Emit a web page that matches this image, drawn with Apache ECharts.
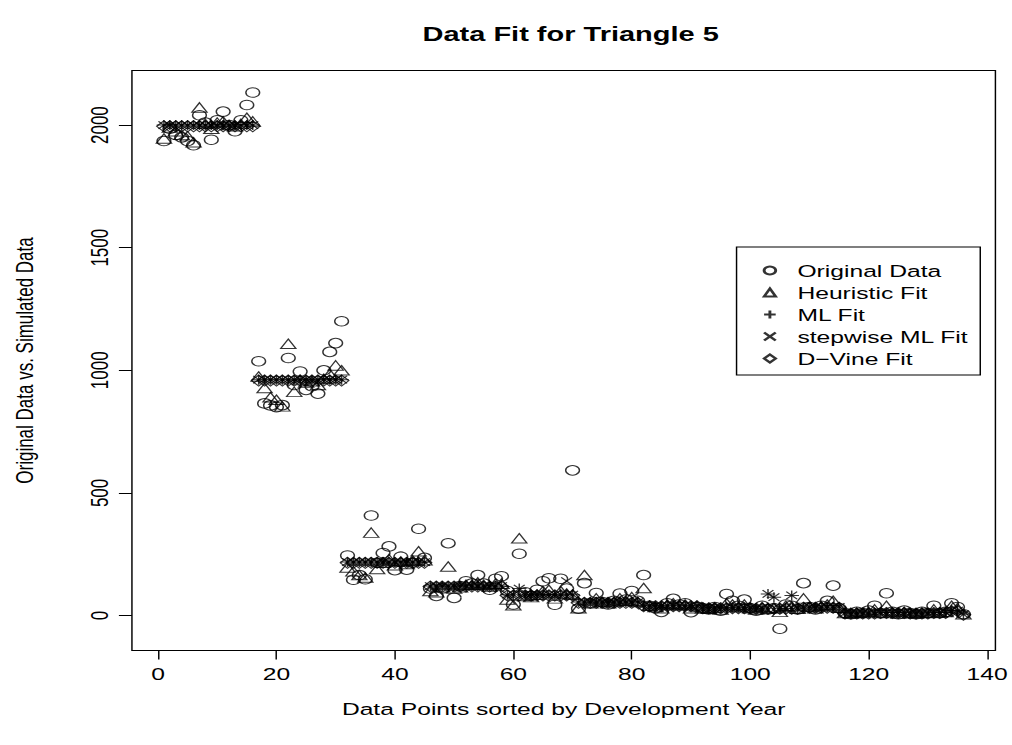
<!DOCTYPE html>
<html>
<head>
<meta charset="utf-8">
<script src="https://cdn.jsdelivr.net/npm/echarts@6/dist/echarts.min.js"></script>
<style>
html,body{margin:0;padding:0;background:#fff;}
#wrap{width:1012px;height:745px;overflow:hidden;background:#fff;}
/* the reference image is an R plot stretched horizontally; draw natively, then stretch */
#chart{width:698px;height:745px;transform:scaleX(1.4499);transform-origin:0 0;}
</style>
</head>
<body>
<div id="wrap"><div id="chart"></div></div>
<script>
// ---- data ----
const titleText = "Data Fit for Triangle 5";
const xAxisTitle = "Data Points sorted by Development Year";
const yAxisTitle = "Original Data vs. Simulated Data";
const xTicks = [0, 20, 40, 60, 80, 100, 120, 140];
const yTicks = [0, 500, 1000, 1500, 2000];
const seriesNames = ["Original Data", "Heuristic Fit", "ML Fit", "stepwise ML Fit", "D\u2212Vine Fit"];

const originalData = [
  1935,1985,1960,1950,1935,1918,2040,2010,1940,2020,2055,2000,1975,2020,2082,2133,
  1037,865,857,850,858,1050,940,995,920,935,905,1000,1075,1111,1200,
  245,146,165,148,408,215,255,282,185,240,187,215,354,235,
  110,80,110,295,72,120,140,130,165,130,105,150,160,
  100,45,252,95,80,105,140,152,44,150,110,592,
  28,132,50,92,55,45,60,90,65,100,60,
  165,40,30,15,50,68,45,50,14,35,
  30,25,35,20,88,60,40,65,30,
  20,40,25,30,-54,45,40,25,
  132,35,25,40,60,122,30,
  10,5,15,10,20,40,
  10,91,15,5,20,
  10,5,15,10,
  40,10,15,
  50,35,
  5
];
const heuristicFit = [
  1945,1990,1975,1960,1955,1930,2072,2005,1985,2010,2015,2000,1995,2005,2030,2015,
  975,928,890,880,853,1108,912,960,950,955,940,965,985,1020,1000,
  196,180,165,155,338,190,215,230,205,220,210,225,262,225,
  100,95,115,200,110,115,125,125,135,125,118,130,130,
  65,42,315,80,75,85,100,105,70,100,90,85,
  30,165,50,70,55,50,55,70,60,75,55,
  112,40,35,30,45,50,42,45,30,38,
  30,28,32,25,50,45,35,45,30,
  25,35,30,30,15,40,38,28,
  70,35,30,38,45,60,32,
  10,8,12,10,15,25,
  10,40,12,8,15,
  10,8,12,10,
  25,12,14,
  40,30,
  5
];
const mlFit = [
  2000,2000,2000,2000,2000,2000,2000,2000,2000,2000,2000,2000,2000,2000,2000,2000,
  962,962,962,962,962,962,962,962,962,962,962,962,962,962,962,
  218,218,218,218,218,218,218,218,218,218,218,218,218,218,
  120,120,120,120,120,120,120,120,120,120,120,120,120,
  85,85,110,85,85,85,85,85,85,85,85,85,
  55,55,55,55,55,55,55,55,55,55,55,
  40,40,40,40,40,40,40,40,40,40,
  32,32,32,32,32,32,32,32,32,
  30,30,88,75,30,30,82,30,
  35,35,35,35,35,35,35,
  10,10,10,10,10,10,
  12,12,12,12,12,
  10,10,10,10,
  12,12,12,
  20,20,
  5
];
const stepwiseMlFit = [
  2000,2000,2000,2000,2000,2000,2000,2000,2000,2000,2000,2000,2000,2000,2000,2000,
  962,962,962,962,962,962,962,962,962,962,962,962,962,962,962,
  218,218,218,218,218,218,218,218,218,218,218,218,218,218,
  120,120,120,120,120,120,120,120,120,120,120,120,120,
  85,85,110,85,85,85,85,85,85,85,140,85,
  55,55,55,55,55,55,55,55,55,55,55,
  40,40,40,40,40,40,40,40,40,40,
  32,32,32,32,32,32,32,32,32,
  30,30,88,75,30,30,82,30,
  35,35,35,35,35,35,35,
  10,10,10,10,10,10,
  12,12,12,12,12,
  10,10,10,10,
  12,12,12,
  20,20,
  5
];
const dVineFit = [
  1995,1995,1995,1995,1995,1995,1995,1995,1995,1995,1995,1995,1995,1995,1995,1995,
  958,958,958,958,958,958,958,958,958,958,958,958,958,958,958,
  215,215,215,215,215,215,215,215,215,215,215,215,215,215,
  118,118,118,118,118,118,118,118,118,118,118,118,118,
  82,82,82,82,82,82,82,82,82,82,82,82,
  52,52,52,52,52,52,52,52,52,52,52,
  38,38,38,38,38,38,38,38,38,38,
  30,30,30,30,30,30,30,30,30,
  28,28,28,28,28,28,28,28,
  32,32,32,32,32,32,32,
  8,8,8,8,8,8,
  10,10,10,10,10,
  8,8,8,8,
  10,10,10,
  18,18,
  3
];

// ---- chart ----
const FONT = "Liberation Sans, Arial, Helvetica, sans-serif";
const pairs = arr => arr.map((v, i) => [i + 1, v]);
const hollow = { color: 'rgba(0,0,0,0)', borderColor: '#000', borderWidth: 1 };
const PLUS = 'path://M0,5L10,5M5,0L5,10';
const CROSS = 'path://M0,0L10,10M0,10L10,0';

const seriesDefs = [
  { data: originalData,  symbol: 'circle',   size: 9.5 },
  { data: heuristicFit,  symbol: 'triangle', size: [10.5, 9.5] },
  { data: mlFit,         symbol: PLUS,       size: 10 },
  { data: stepwiseMlFit, symbol: CROSS,      size: 7.5 },
  { data: dVineFit,      symbol: 'diamond',  size: [10, 11] }
];

const chart = echarts.init(document.getElementById('chart'), null, { renderer: 'svg' });
chart.setOption({
  animation: false,
  backgroundColor: '#fff',
  title: {
    text: titleText,
    left: 388.6, top: 19, textAlign: 'center',
    textStyle: { fontFamily: FONT, fontSize: 20, fontWeight: 'bold', color: '#000' }
  },
  grid: {
    left: 90.3, top: 70.5, width: 596.6, height: 580,
    show: true, borderColor: '#000', borderWidth: 1, backgroundColor: 'transparent'
  },
  legend: {
    orient: 'vertical',
    left: 508, top: 247,
    itemWidth: 8, itemHeight: 8, itemGap: 5,
    padding: [15, 8, 8, 18],
    borderColor: '#000', borderWidth: 1, borderRadius: 0,
    selectedMode: false,
    textStyle: { fontFamily: FONT, fontSize: 17, color: '#000', padding: [0, 0, 0, 10] },
    data: seriesNames
  },
  xAxis: {
    type: 'value', min: -4.4, max: 141.4,
    name: xAxisTitle, nameLocation: 'middle', nameGap: 50,
    nameTextStyle: { fontFamily: FONT, fontSize: 17, color: '#000' },
    axisLine: { show: false, onZero: false },
    axisTick: { show: true, length: 9, inside: false, customValues: xTicks, lineStyle: { color: '#000' } },
    axisLabel: { customValues: xTicks, margin: 15, fontFamily: FONT, fontSize: 17, color: '#000',
                 formatter: v => String(v) },
    splitLine: { show: false }
  },
  yAxis: {
    type: 'value', min: -142.6, max: 2222.6,
    name: yAxisTitle, nameLocation: 'middle', nameGap: 66, nameRotate: 90,
    nameTextStyle: { fontFamily: FONT, fontSize: 17, color: '#000' },
    axisLine: { show: false, onZero: false },
    axisTick: { show: true, length: 9, inside: false, customValues: yTicks, lineStyle: { color: '#000' } },
    axisLabel: { customValues: yTicks, rotate: 90, margin: 14, fontFamily: FONT, fontSize: 17, color: '#000',
                 formatter: v => String(v) },
    splitLine: { show: false }
  },
  series: seriesDefs.map((d, k) => ({
    name: seriesNames[k],
    type: 'scatter',
    symbol: d.symbol,
    symbolSize: d.size,
    itemStyle: hollow,
    emphasis: { disabled: true },
    data: pairs(d.data)
  }))
});
</script>
</body>
</html>
